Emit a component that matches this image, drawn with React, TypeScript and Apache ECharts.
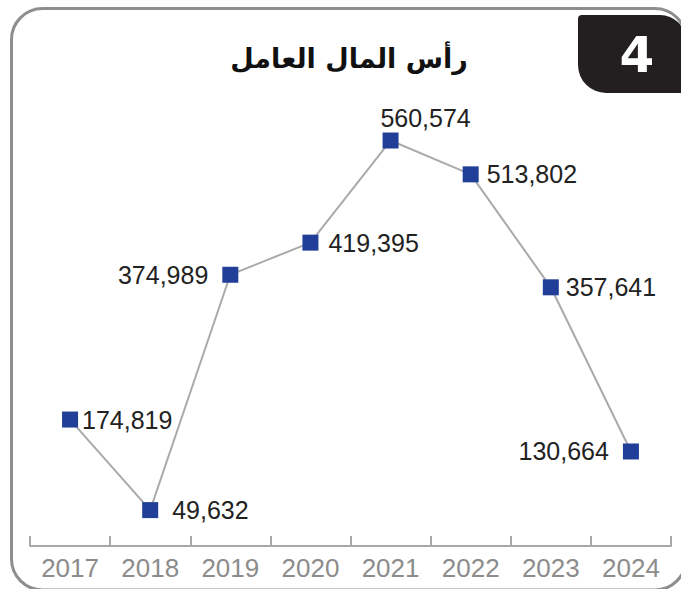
import React, { useEffect, useRef } from "react";
import * as echarts from "echarts";

const categories = ["2017", "2018", "2019", "2020", "2021", "2022", "2023", "2024"];
const values = [174819, 49632, 374989, 419395, 560574, 513802, 357641, 130664];
const labelPlacement = ["right", "right", "left", "right", "top", "right", "right", "left"];
const labelDistance = [4, 14, 14, 10, 2, 8, 7, 14];
const titleText = "رأس المال العامل";
const badgeText = "4";

export default function App() {
  const ref = useRef<HTMLDivElement>(null);
  useEffect(() => {
    if (!ref.current) return;
    const chart = echarts.init(ref.current, null, { renderer: "svg" });
    const data = values.map((v, i) => ({
      value: v,
      label: {
        position: labelPlacement[i],
        distance: labelDistance[i],
        offset: labelPlacement[i] === "top" ? [35, 0] : [0, 0],
      },
    }));
    chart.setOption({
      animation: false,
      backgroundColor: "#ffffff",
      grid: { left: 30, right: 10, top: 112, bottom: 43 },
      xAxis: {
        type: "category",
        data: categories,
        boundaryGap: true,
        axisLine: { show: true, lineStyle: { color: "#a8a8a8", width: 2 } },
        axisTick: { show: true, inside: true, length: 10, alignWithLabel: false, lineStyle: { color: "#a8a8a8", width: 2 } },
        axisLabel: { color: "#8c8c8c", fontSize: 26, margin: 9, fontFamily: "Liberation Sans, Arial, sans-serif" },
        splitLine: { show: false },
      },
      yAxis: {
        type: "value",
        min: 0,
        max: 600000,
        show: false,
        splitLine: { show: false },
      },
      series: [
        {
          type: "line",
          data,
          symbol: "rect",
          symbolSize: 16,
          itemStyle: { color: "#213f98" },
          lineStyle: { color: "#aaaaaa", width: 2 },
          label: {
            show: true,
            color: "#222222",
            fontSize: 25,
            fontFamily: "Liberation Sans, Arial, sans-serif",
            formatter: (p: any) => Number(p.value).toLocaleString("en-US"),
          },
          z: 5,
        },
      ],
      graphic: [
        {
          type: "rect",
          z: 0,
          shape: { x: 11.5, y: 8.5, width: 674.5, height: 581.5, r: 31 },
          style: { fill: "none", stroke: "#8e8e90", lineWidth: 3 },
        },
        {
          type: "rect",
          z: 1,
          shape: { x: 578, y: 15, width: 108, height: 78, r: [4, 26, 0, 28] },
          style: { fill: "#231f20" },
        },
        {
          type: "text",
          z: 2,
          x: 637,
          y: 55,
          style: {
            text: badgeText,
            fill: "#ffffff",
            fontSize: 50,
            fontWeight: "bold",
            fontFamily: "DejaVu Sans, sans-serif",
            align: "center",
            verticalAlign: "middle",
          },
        },
        {
          type: "text",
          z: 2,
          x: 349,
          y: 58,
          style: {
            text: titleText,
            fill: "#111111",
            fontSize: 27,
            fontWeight: "bold",
            fontFamily: "DejaVu Sans, sans-serif",
            align: "center",
            verticalAlign: "middle",
          },
        },
      ],
    });
    return () => chart.dispose();
  }, []);
  return (
    <div
      ref={ref}
      style={{ position: "fixed", left: 0, top: 0, width: 681, height: 589 }}
    />
  );
}
